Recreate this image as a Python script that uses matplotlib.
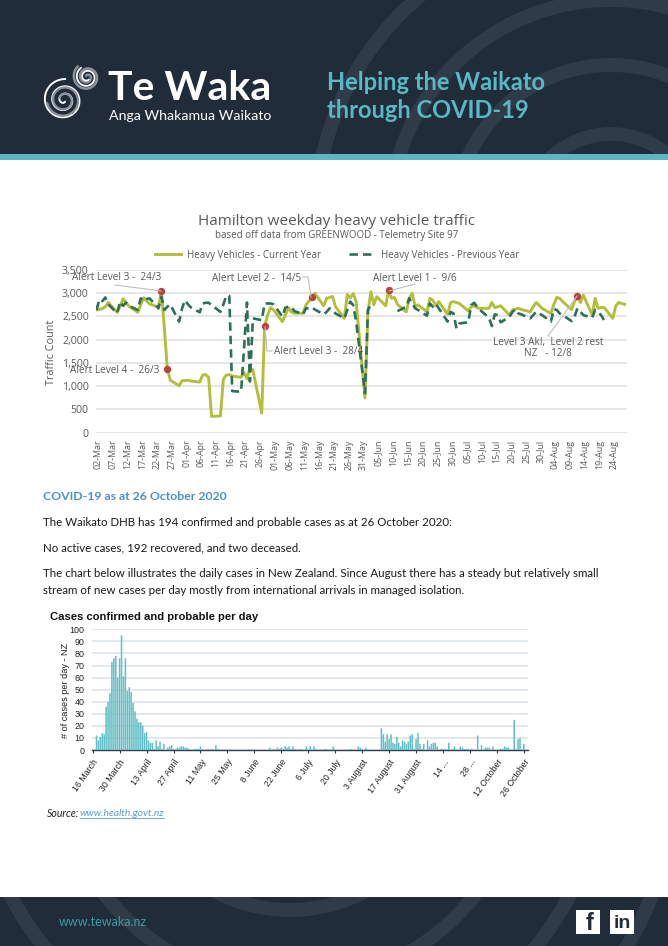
"""Te Waka COVID-19 report page: heavy vehicle traffic and daily case charts."""
import numpy as np
import matplotlib
matplotlib.use("Agg")
import matplotlib.pyplot as plt
from matplotlib.lines import Line2D
from matplotlib.patches import Circle, Rectangle
from matplotlib.transforms import ScaledTranslation

W, H = 668, 946

NAVY = "#202c3a"
RING = "#2f3b49"
TEAL = "#5ab8c2"
OLIVE = "#b3bf3a"
DARK_GREEN = "#2f6f5a"
GREY_TEXT = "#595959"

# Traffic chart, x is days since 2 March, weekdays only
CURRENT_DAYS = [0, 1, 2, 3, 4, 7, 8, 9, 10, 11, 14, 15, 16, 17, 18, 21, 22, 23, 24, 25, 28, 29, 30, 31, 32,
                35, 36, 37, 38, 39, 42, 43, 44, 45, 46, 49, 50, 51, 52, 53, 56, 57, 58, 59, 60, 63, 64, 65, 66, 67,
                70, 71, 72, 73, 74, 77, 78, 79, 80, 81, 84, 85, 86, 87, 88, 91, 92, 93, 94, 95,
                98, 99, 100, 101, 102, 105, 106, 107, 108, 109, 112, 113, 114, 115, 116,
                119, 120, 121, 122, 123, 126, 127, 128, 129, 130, 133, 134, 135, 136, 137,
                140, 141, 142, 143, 144, 147, 148, 149, 150, 151, 154, 155, 156, 157, 158,
                161, 162, 163, 164, 165, 168, 169, 170, 171, 172, 175, 176, 177, 178, 179]
CURRENT_YEAR = [2640, 2650, 2670, 2710, 2800, 2590, 2720, 2880, 2800, 2720, 2590, 2750, 2900, 2830, 2770,
                2700, 3050, 2250, 1380, 1130, 1010, 1120, 1120, 1130, 1110,
                1090, 1240, 1250, 1190, 350, 360, 1150, 1240, 1250, 1220, 1190, 1300, 1160, 1400, 1350,
                420, 2300, 2530, 2690, 2640, 2390, 2530, 2690, 2600, 2570,
                2570, 2750, 2830, 2910, 3000, 2730, 2890, 2910, 2930, 2710, 2460, 2975, 2900, 2990, 2820,
                750, 2600, 3030, 2760, 2925, 2730, 3060, 2890, 2910, 2760, 2600, 2890, 3000, 2710, 2750,
                2600, 2890, 2850, 2730, 2820, 2545, 2800, 2820, 2800, 2780, 2620, 2710, 2730, 2690, 2675,
                2675, 2800, 2690, 2710, 2730, 2530, 2640, 2660, 2675, 2650, 2600, 2710, 2800, 2745, 2675,
                2565, 2760, 2910, 2890, 2820, 2650, 2820, 2930, 2800, 2960, 2530, 2890, 2675, 2695, 2695,
                2460, 2730, 2800, 2780, 2760]

PREVIOUS_DAYS = [0, 1, 2, 3, 4, 7, 8, 9, 10, 11, 14, 15, 16, 17, 18, 21, 22, 23, 24, 25, 28, 29, 30, 31, 32,
                 35, 36, 37, 38, 39, 42, 43, 44, 45, 46, 49, 50, 51, 52, 53, 56, 57, 58, 59, 60, 63, 64, 65, 66, 67,
                 70, 71, 72, 73, 74, 77, 78, 79, 80, 81, 84, 85, 86, 87, 88, 91, 92, 93, 94, 95,
                 102, 105, 106, 107, 108, 109, 112, 113, 114, 115, 116,
                 119, 120, 121, 122, 123, 126, 127, 128, 129, 130, 133, 134, 135, 136, 137,
                 140, 141, 142, 143, 144, 147, 148, 149, 150, 151, 154, 155, 156, 157, 158,
                 161, 162, 163, 164, 165, 168, 169, 170, 171, 172]
PREVIOUS_YEAR = [2640, 2870, 2830, 2910, 2760, 2570, 2820, 2730, 2800, 2730, 2640, 2890, 2830, 2875, 2890,
                 2675, 2925, 2640, 2710, 2760, 2390, 2675, 2850, 2760, 2695,
                 2590, 2780, 2795, 2795, 2745, 2600, 2760, 2945, 2945, 895, 880, 1810, 2800, 1100, 2460,
                 2420, 2780, 2780, 2780, 2760, 2500, 2690, 2710, 2710, 2620,
                 2545, 2675, 2675, 2695, 2650, 2545, 2600, 2675, 2640, 2565, 2460, 2640, 2820, 2745, 2390,
                 850, 2640, 2760, 2745, np.nan, 2615, 2710, 2890, 2780, 2675, 2640,
                 2515, 2780, 2710, 2780, 2675, 2390, 2600, 2565, 2245, 2350, 2375, 2745, 2795, 2710, 2640,
                 2475, 2295, 2545, 2530, 2375, 2495, 2600, 2655, 2565, 2545, 2460, 2530, 2600, 2565, 2530,
                 2390, 2660, 2640, 2565, 2530, 2400, 2495, 2675, 2600, 2530, 2475, 2640, 2590, 2530, 2425]

ALERT_DAYS = [22, 24, 57, 73, 99, 163]
ALERT_VALUES = [3050, 1380, 2300, 2910, 3060, 2930]

TRAFFIC_TICK_LABELS = ["02-Mar", "07-Mar", "12-Mar", "17-Mar", "22-Mar", "27-Mar", "01-Apr", "06-Apr", "11-Apr",
                       "16-Apr", "21-Apr", "26-Apr", "01-May", "06-May", "11-May", "16-May", "21-May", "26-May",
                       "31-May", "05-Jun", "10-Jun", "15-Jun", "20-Jun", "25-Jun", "30-Jun", "05-Jul", "10-Jul",
                       "15-Jul", "20-Jul", "25-Jul", "30-Jul", "04-Aug", "09-Aug", "14-Aug", "19-Aug", "24-Aug"]

# Cases chart, x is days since 16 March, days without a bar had no cases
CASE_DAYS = [2, 3, 4, 5, 6, 7, 8, 9, 10, 11, 12, 13, 14, 15, 16, 17, 18, 19, 20, 21, 22, 23, 24, 25, 26, 27, 28,
             29, 30, 31, 32, 33, 34, 35, 36, 37, 39, 40, 41, 42, 44, 45, 46, 47, 48, 49, 50, 53, 54, 55, 56,
             60, 62, 64, 65, 92, 94, 96, 97, 98, 99, 100, 101, 102, 103, 104, 105, 108, 111, 113, 115, 116,
             121, 125, 134, 138, 139, 140, 142,
             150, 151, 152, 153, 154, 155, 156, 157, 158, 159, 160, 161, 162, 163, 164, 165, 166, 167, 168,
             169, 170, 171, 172, 174, 175, 176, 177, 178, 179, 181, 182, 183, 185, 187, 188, 191, 192, 193,
             194, 195, 197, 200, 202, 204, 205, 206, 208, 212, 213, 214, 215, 216, 219, 220, 221, 222, 224]
CASE_VALUES = [12, 8, 11, 14, 13, 36, 40, 47, 73, 76, 78, 60, 76, 95, 61, 76, 49, 52, 48, 39, 32, 26, 23, 23, 20,
               14, 15, 8, 6, 6, 1, 8, 3, 7, 1, 5, 2, 3, 4, 1, 2, 2, 3, 3, 2, 2, 1, 1, 1, 1, 3,
               1, 1, 4, 1, 2, 1, 2, 1, 2, 1, 3, 2, 3, 1, 3, 1, 1, 3, 3, 3, 1,
               1, 3, 1, 3, 2, 1, 2,
               18, 13, 7, 13, 9, 13, 6, 5, 11, 6, 3, 8, 7, 5, 7, 12, 13, 1, 9,
               14, 5, 1, 5, 8, 3, 5, 6, 6, 3, 1, 1, 1, 6, 1, 3, 3, 2, 1,
               1, 1, 1, 12, 4, 2, 2, 2, 3, 1, 1, 3, 2, 2, 25, 1, 9, 10, 5]
CASE_TICK_DAYS = [0, 14, 28, 42, 56, 70, 84, 98, 112, 126, 140, 154, 168, 182, 196, 210, 224]
CASE_TICK_LABELS = ["16 March", "30 March", "13 April", "27 April", "11 May", "25 May", "8 June", "22 June",
                    "6 July", "20 July", "3 August", "17 August", "31 August", "14 ...", "28 ...",
                    "12 October", "26 October"]

BODY_LINES = [
    (522, "The Waikato DHB has 194 confirmed and probable cases as at 26 October 2020:"),
    (548, "No active cases, 192 recovered, and two deceased."),
    (573, "The chart below illustrates the daily cases in New Zealand. Since August there has a steady but relatively small"),
    (590, "stream of new cases per day mostly from international arrivals in managed isolation."),
]


def px_axes(fig, left, top, right, bottom, **kw):
    return fig.add_axes([left / W, 1 - bottom / H, (right - left) / W, (bottom - top) / H], **kw)


def draw_rings(page, cx, cy, radii, clip):
    for r in radii:
        ring = Circle((cx, cy), r, fill=False, ec=RING, lw=10, zorder=1)
        page.add_patch(ring)
        ring.set_clip_path(clip)


def spiral(page, cx, cy, r_start, r_end, turns, start, color, lw):
    theta = np.linspace(0, 2 * np.pi * turns, 300)
    r = np.linspace(r_start, r_end, 300)
    page.plot(cx + r * np.cos(theta + start), cy + r * np.sin(theta + start),
              color=color, lw=lw, solid_capstyle="round", zorder=3)


def draw_page(page):
    page.set_xlim(0, W)
    page.set_ylim(H, 0)
    page.axis("off")

    top = Rectangle((0, 0), W, 154, fc=NAVY, ec="none", zorder=0)
    bottom = Rectangle((0, 897), W, H - 897, fc=NAVY, ec="none", zorder=0)
    page.add_patch(top)
    page.add_patch(bottom)
    page.add_patch(Rectangle((0, 154), W, 6, fc=TEAL, ec="none", zorder=2))
    draw_rings(page, 611, 222, [88, 157, 222, 296], top)
    draw_rings(page, 290, 750, [160, 235, 315, 390], bottom)

    # logo
    spiral(page, 64, 100, 2, 21, 2.6, 1.0, "white", 1.4)
    spiral(page, 64, 100, 5, 17, 1.9, 3.6, "#8a919a", 1.6)
    spiral(page, 87, 77, 1.5, 14, 2.0, 4.0, "#8a919a", 1.8)
    spiral(page, 87, 77, 3, 11, 1.5, 1.0, "white", 1.3)
    page.text(108, 100, "Te Waka", color="white", family="Lato", weight="bold", fontsize=29.5, va="baseline")
    page.text(109, 120, "Anga Whakamua Waikato", color="white", family="Lato", fontsize=10.2, va="baseline")
    page.text(327, 90, "Helping the Waikato", color=TEAL, family="Lato", weight="bold", fontsize=17, va="baseline")
    page.text(327, 118, "through COVID-19", color=TEAL, family="Lato", weight="bold", fontsize=17, va="baseline")

    # footer
    page.text(59, 922, "www.tewaka.nz", color="#3f9aa6", family="Lato", fontsize=9, va="center")
    page.add_patch(Rectangle((576, 910), 24, 24, fc="white", ec="none", zorder=3))
    page.add_patch(Rectangle((610, 910), 24, 24, fc="white", ec="none", zorder=3))
    page.text(590, 923, "f", color=NAVY, family="Liberation Sans", weight="bold", fontsize=17,
              ha="center", va="center", zorder=4)
    page.text(622, 923, "in", color=NAVY, family="Liberation Sans", weight="bold", fontsize=14,
              ha="center", va="center", zorder=4)

    # body text
    page.text(43, 496, "COVID-19 as at 26 October 2020", color="#4a90d0", family="Lato", weight="bold",
              fontsize=8.8, va="center")
    for y, line in BODY_LINES:
        page.text(43, y, line, color="#1a1a1a", family="Lato", fontsize=8.3, va="center")
    page.text(47, 813, "Source:", color="#222222", family="Lato", style="italic", fontsize=7.6, va="center")
    page.text(80, 813, "www.health.govt.nz", color="#5b9bd5", family="Lato", style="italic", fontsize=7.4, va="center")
    page.plot([80, 164], [818, 818], color="#5b9bd5", lw=0.6)


def draw_traffic(fig, page):
    ax = px_axes(fig, 95.7, 270, 627, 432.7, facecolor="none", zorder=1)
    ax.plot(CURRENT_DAYS, CURRENT_YEAR, color=OLIVE, lw=2.1, label="Heavy Vehicles - Current Year", zorder=3)
    ax.plot(PREVIOUS_DAYS, PREVIOUS_YEAR, color=DARK_GREEN, lw=1.9, ls=(0, (3.2, 1.9)),
            label="Heavy Vehicles - Previous Year", zorder=4)
    ax.scatter(ALERT_DAYS, ALERT_VALUES, s=28, color="#b9423f", linewidths=0, zorder=5)

    ax.set_xlim(-0.27, 179.8)
    ax.set_ylim(0, 3500)
    ax.set_yticks(range(0, 3501, 500))
    ax.set_yticklabels([f"{v:,}" for v in range(0, 3501, 500)], family="Open Sans", fontsize=7.6, color=GREY_TEXT)
    ax.set_xticks(np.arange(len(TRAFFIC_TICK_LABELS)) * 5)
    ax.set_xticklabels(TRAFFIC_TICK_LABELS, rotation=90, family="Open Sans", fontsize=6.4, color=GREY_TEXT)
    ax.tick_params(length=0, pad=5)
    shift = ScaledTranslation(1.5 / 100, 0, fig.dpi_scale_trans)
    for lab in ax.get_xticklabels():
        lab.set_transform(lab.get_transform() + shift)
    ax.grid(axis="y", color="#e4e4e4", lw=1.3)
    ax.set_axisbelow(True)
    for s in ax.spines.values():
        s.set_visible(False)

    page.text(337, 221, "Hamilton weekday heavy vehicle traffic", family="Open Sans", fontsize=11,
              color=GREY_TEXT, ha="center", va="center")
    page.text(337, 235, "based off data from GREENWOOD - Telemetry Site 97", family="Open Sans", fontsize=7.05,
              color=GREY_TEXT, ha="center", va="center")
    page.text(52, 352, "Traffic Count", family="Open Sans", fontsize=7.8, color=GREY_TEXT,
              rotation=90, ha="center", va="center")

    fig.legend(*ax.get_legend_handles_labels(), loc="center", bbox_to_anchor=(337 / W, 1 - 255 / H), ncol=2,
               frameon=False, prop={"family": "Open Sans", "size": 7.0}, labelcolor=GREY_TEXT,
               handlelength=2.7, columnspacing=2.9, handletextpad=0.6)

    labels = [
        (72, 277, "Alert Level 3 -  24/3", "left"),
        (70, 370, "Alert Level 4 -  26/3", "left"),
        (212, 278, "Alert Level 2 -  14/5", "left"),
        (274, 351, "Alert Level 3 -  28/4", "left"),
        (373, 278, "Alert Level 1 -  9/6", "left"),
        (548, 342, "Level 3 Akl,  Level 2 rest", "center"),
        (548, 353, "NZ   - 12/8", "center"),
    ]
    for x, y, txt, ha in labels:
        fig.text(x, y, txt, transform=page.transData, family="Open Sans", fontsize=7.2,
                 color=GREY_TEXT, ha=ha, va="center", zorder=6)
    leaders = [
        ([115, 161], [285, 291]),
        ([303, 308, 311], [277, 277, 297]),
        ([265, 267, 272], [327, 351, 351]),
        ([389, 415], [291, 284]),
        ([577, 548], [296, 336]),
    ]
    for xs, ys in leaders:
        fig.add_artist(Line2D(xs, ys, transform=page.transData, color="#bfbfbf", lw=0.8, zorder=6))


def draw_cases(fig, page):
    ax = px_axes(fig, 91.7, 629.3, 527.7, 750, facecolor="none", zorder=1)
    bars = ax.bar(CASE_DAYS, CASE_VALUES, width=0.8, color="#62bfc6", linewidth=0, zorder=3)
    for b in bars:
        b.set_snap(False)
    ax.set_xlim(-0.5, 226)
    ax.set_ylim(0, 100)
    ax.set_yticks(range(0, 101, 10))
    ax.set_yticklabels([str(v) for v in range(0, 101, 10)], family="Liberation Sans", fontsize=6.4, color="#222222")
    ax.set_xticks(CASE_TICK_DAYS)
    ax.set_xticklabels(CASE_TICK_LABELS, rotation=55, ha="right", va="top", rotation_mode="anchor",
                       family="Liberation Sans", fontsize=6.3, color="#222222")
    ax.tick_params(axis="y", length=0, pad=5)
    ax.tick_params(axis="x", length=2.5, width=0.8, color="#2f3f4f", pad=3)
    ax.grid(axis="y", color="#dfe5ee", lw=1.2)
    ax.set_axisbelow(True)
    for name, s in ax.spines.items():
        s.set_visible(name == "bottom")
    ax.spines["bottom"].set_color("#2f3f4f")
    ax.spines["bottom"].set_linewidth(1.0)

    page.text(50, 617, "Cases confirmed and probable per day", family="Liberation Sans", weight="bold",
              fontsize=8.15, color="#111111", va="center")
    page.text(65, 690, "# of cases per day - NZ", family="Liberation Sans", fontsize=6.6, color="#222222",
              rotation=90, ha="center", va="center")


def main():
    fig = plt.figure(figsize=(W / 100, H / 100), dpi=100, facecolor="white")
    page = fig.add_axes([0, 0, 1, 1], zorder=0)
    draw_page(page)
    draw_traffic(fig, page)
    draw_cases(fig, page)
    fig.savefig("out.png", dpi=100)
    plt.close(fig)


if __name__ == "__main__":
    main()
